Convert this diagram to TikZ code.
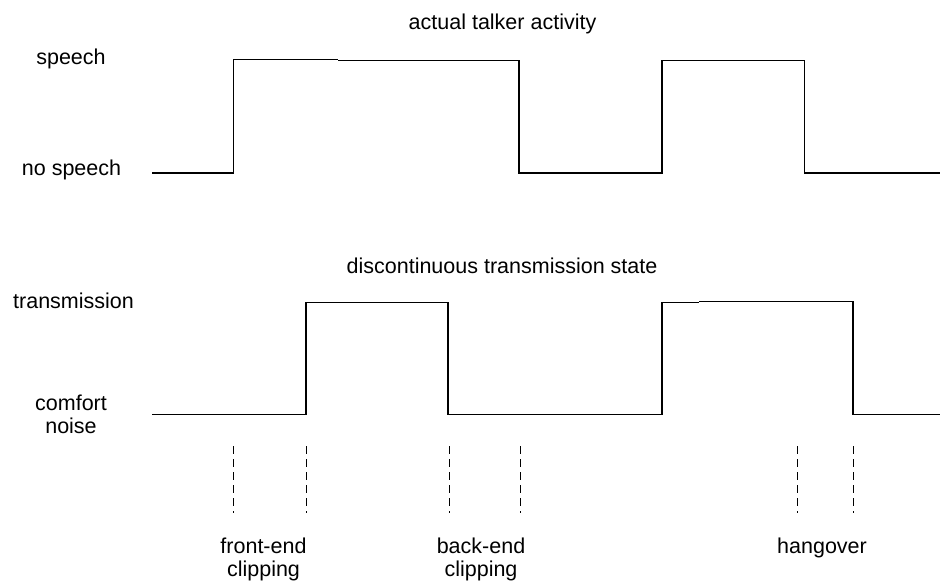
\documentclass[tikz,border=0pt]{standalone}
\usepackage{fontspec}
\setmainfont{Liberation Sans}
\begin{document}
\begin{tikzpicture}[x=1pt,y=-1pt,
  wave/.style={line width=1.3pt,line join=miter},
  marker/.style={line width=0.9pt,dash pattern=on 8pt off 5pt},
  lbl/.style={font=\fontsize{21.5}{23}\selectfont,inner sep=0pt,anchor=base}]
\useasboundingbox (0,0) rectangle (941,583);
% titles
\node[lbl] (t1) at (502.5,30) {actual talker activity};
\node[lbl] (t2) at (502,273) {discontinuous transmission state};
% level labels
\node[lbl] (sp) at (71,65) {speech};
\node[lbl] (ns) at (71.5,175) {no speech};
\node[lbl] (tr) at (73.5,308) {transmission};
\node[lbl] (cn1) at (71,410) {comfort};
\node[lbl] (cn2) at (71,433) {noise};
% top waveform
\draw[wave] (152,173) -- (233.5,173) -- (233.5,59.3) -- (338,59.3);
\draw[wave] (338,60.3) -- (519,60.3) -- (519,173) -- (662,173) -- (662,60.3) -- (804.5,60.3) -- (804.5,173) -- (940,173);
% bottom waveform
\draw[wave] (152,414.5) -- (306,414.5) -- (306,302.3) -- (448,302.3) -- (448,414.5) -- (662,414.5) -- (662,302.3) -- (699,302.3);
\draw[wave] (699,301.5) -- (853,301.5) -- (853,414.5) -- (940,414.5);
% markers
\foreach \x/\n in {233.5/a,306/b,449/c,520/d,797/e,853/f}{
  \coordinate (m\n1) at (\x,446);
  \coordinate (m\n2) at (\x,513);
  \draw[marker] (m\n1) -- (m\n2);
}
% bottom labels
\node[lbl] (fe1) at (263.5,553) {front-end};
\node[lbl] (fe2) at (263.5,576) {clipping};
\node[lbl] (be1) at (481,553) {back-end};
\node[lbl] (be2) at (481,576) {clipping};
\node[lbl] (ho) at (822,553) {hangover};
\end{tikzpicture}
\end{document}
